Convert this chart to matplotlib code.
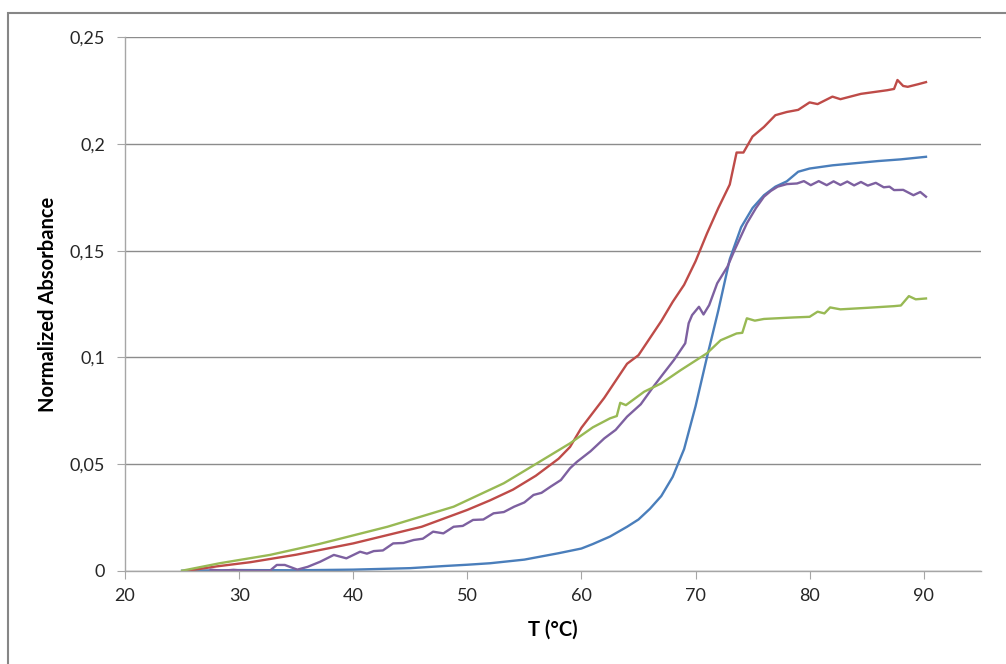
import matplotlib
matplotlib.use("Agg")
import matplotlib.pyplot as plt
from matplotlib.patches import Rectangle

# melting curves, absorbance vs temperature
blue_t = [25, 30, 35, 40, 45, 48, 50, 52, 55, 58, 60, 61, 62.5, 64, 65, 66, 67, 68, 69,
          70, 71, 72, 73, 74, 75, 76, 77, 78, 79, 80, 82, 84, 86, 88, 90.2]
blue_a = [0, 0.0003, 0.0002, 0.0005, 0.0012, 0.0022, 0.0028, 0.0035, 0.0052, 0.0082,
          0.0104, 0.0125, 0.016, 0.0206, 0.024, 0.029, 0.035, 0.044, 0.057, 0.077, 0.100,
          0.122, 0.146, 0.161, 0.170, 0.176, 0.180, 0.1825, 0.187, 0.1885, 0.190, 0.1910,
          0.192, 0.1928, 0.194]

red_t = [25.5, 28, 31, 35, 40, 46, 50, 52, 54, 56, 58, 59, 60, 61, 62, 63, 64, 65, 66, 67,
         68, 69, 70, 71, 72, 73, 73.6, 74.2, 75, 76, 77, 78, 79, 80, 80.7, 82, 82.7, 84.5,
         86.8, 87.4, 87.7, 88.2, 88.6, 89.5, 90.2]
red_a = [0, 0.002, 0.004, 0.0075, 0.0128, 0.0206, 0.0285, 0.033, 0.038, 0.0445, 0.0525,
         0.058, 0.067, 0.074, 0.081, 0.089, 0.097, 0.101, 0.109, 0.117, 0.126, 0.134, 0.145,
         0.158, 0.170, 0.181, 0.196, 0.196, 0.2035, 0.208, 0.2135, 0.215, 0.216, 0.2195,
         0.2187, 0.2222, 0.221, 0.2235, 0.2252, 0.2258, 0.230, 0.2272, 0.2268, 0.228, 0.229]

green_t = [25, 28.3, 32.7, 37, 43, 48.8, 53.2, 56, 59, 61, 62.5, 63.1, 63.4, 63.9, 65.5,
           67, 68.7, 71, 72.2, 73.6, 74.1, 74.5, 75.2, 76, 78.6, 80, 80.7, 81.3, 81.8,
           82.7, 85, 87.4, 88, 88.7, 89.3, 90.2]
green_a = [0, 0.0035, 0.0074, 0.0125, 0.0206, 0.030, 0.041, 0.050, 0.0597, 0.0672, 0.0714,
           0.0725, 0.0787, 0.0776, 0.0839, 0.0878, 0.094, 0.1019, 0.108, 0.1112, 0.1115,
           0.1183, 0.1172, 0.118, 0.1187, 0.119, 0.1214, 0.1206, 0.1234, 0.1225, 0.1232,
           0.124, 0.1243, 0.1287, 0.1272, 0.1276]

purple_t = [27.5, 28.5, 29.5, 30.5, 31.5, 32.7, 33.3, 34.0, 35.1, 36.0, 37.1, 38.3, 39.4,
            40.6, 41.2, 41.8, 42.6, 43.5, 44.4, 45.3, 46.1, 47.0, 47.9, 48.8, 49.6, 50.5,
            51.4, 52.3, 53.2, 54.1, 55.0, 55.8, 56.5, 57.3, 58.2, 59.0, 59.6, 60.8, 62.0,
            63.0, 64.0, 65.2, 66.3, 67.2, 68.1, 69.1, 69.4, 69.7, 70.3, 70.7, 71.2, 71.9,
            72.8, 73.4, 74.5, 75.3, 76.0, 76.6, 77.2, 78.0, 78.9, 79.5, 80.1, 80.8, 81.5,
            82.1, 82.7, 83.3, 83.9, 84.5, 85.1, 85.8, 86.5, 87.0, 87.4, 88.2, 89.1, 89.7,
            90.2]
purple_a = [0.0005, 0.0, 0.0004, 0.0, 0.0, 0.0, 0.0027, 0.0027, 0.0005, 0.0018, 0.0042,
            0.0074, 0.0058, 0.0089, 0.0080, 0.0092, 0.0095, 0.0128, 0.0130, 0.0144, 0.0150,
            0.0183, 0.0175, 0.0206, 0.0210, 0.0238, 0.0240, 0.0269, 0.0275, 0.030, 0.0320,
            0.0355, 0.0365, 0.0394, 0.0425, 0.048, 0.051, 0.056, 0.062, 0.066, 0.0722, 0.078,
            0.0862, 0.0925, 0.0987, 0.1066, 0.116, 0.1198, 0.1237, 0.1201, 0.1245, 0.1347,
            0.1425, 0.150, 0.1628, 0.170, 0.1753, 0.178, 0.180, 0.1812, 0.1815, 0.1826,
            0.1807, 0.1826, 0.1807, 0.1825, 0.1808, 0.1824, 0.1806, 0.1822, 0.1805, 0.1818,
            0.1797, 0.1800, 0.1784, 0.1785, 0.176, 0.1775, 0.1753]

x_ticks = [20, 30, 40, 50, 60, 70, 80, 90]
y_ticks = [0, 0.05, 0.1, 0.15, 0.2, 0.25]
y_tick_labels = ["0", "0,05", "0,1", "0,15", "0,2", "0,25"]

plt.rcParams["font.family"] = ["Lato", "DejaVu Sans"]

fig = plt.figure(figsize=(10.06, 6.64), dpi=100)
ax = fig.add_axes([0.1243, 0.1405, 0.8506, 0.8033])

ax.plot(blue_t, blue_a, color="#4A7EBB", lw=1.7)
ax.plot(red_t, red_a, color="#BE4B48", lw=1.7)
ax.plot(purple_t, purple_a, color="#7D60A0", lw=1.7)
ax.plot(green_t, green_a, color="#98B954", lw=1.7)

ax.set_xlim(20, 95)
ax.set_ylim(0, 0.25)
ax.set_xticks(x_ticks)
ax.set_yticks(y_ticks)
ax.set_yticklabels(y_tick_labels)

ax.grid(True, axis="y", color="#8C8C8C", lw=1.0)
ax.set_axisbelow(True)
for side in ("top", "right"):
    ax.spines[side].set_visible(False)
for side in ("left", "bottom"):
    ax.spines[side].set_color("#A6A6A6")
    ax.spines[side].set_linewidth(1.0)
ax.tick_params(axis="both", direction="out", length=5.5, color="#A6A6A6",
               labelsize=13, labelcolor="#262626")
ax.tick_params(axis="y", pad=9)
ax.tick_params(axis="x", pad=7)

ax.set_xlabel("T (°C)", fontsize=14.5, fontweight="bold", labelpad=11)
ax.set_ylabel("Normalized Absorbance", fontsize=14.5, fontweight="bold", labelpad=8)

# outer chart frame
fig.patches.append(Rectangle((0.008, -0.1), 1.1, 1.0804, transform=fig.transFigure,
                             fill=False, edgecolor="#868686", lw=1.5))

fig.savefig("out.png", dpi=100)
